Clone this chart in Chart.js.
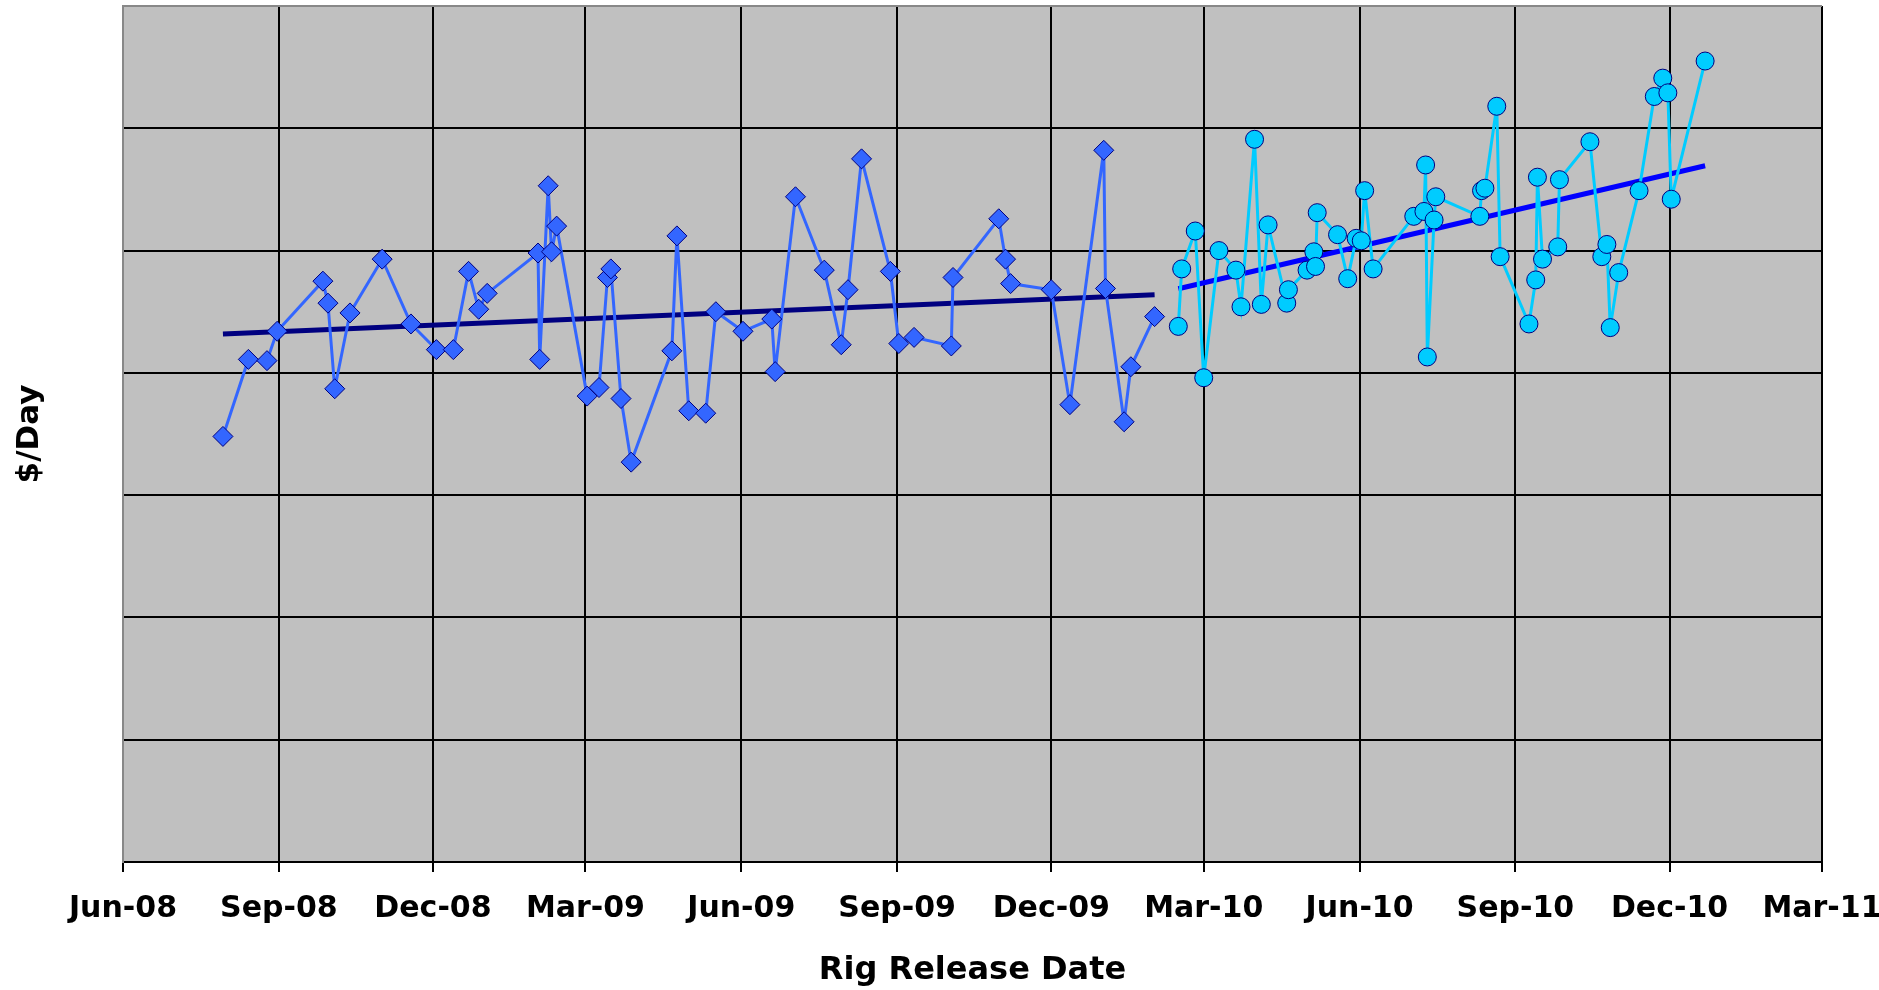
<!DOCTYPE html>
<html>
<head>
<meta charset="utf-8">
<script src="https://cdn.jsdelivr.net/npm/chart.js@4.4.1/dist/chart.umd.min.js"></script>
<style>
  html, body { margin: 0; padding: 0; background: #fff; }
</style>
</head>
<body>
<canvas id="rigChart" width="1879" height="990"></canvas>
<script>
// releases up to Jan-10 (diamonds)
const earlyDates = [
  '2008-07-30', '2008-08-14', '2008-08-25', '2008-08-31', '2008-09-27', '2008-09-30',
  '2008-10-04', '2008-10-13', '2008-11-01', '2008-11-18', '2008-12-03', '2008-12-13',
  '2008-12-22', '2008-12-28', '2009-01-02', '2009-02-01', '2009-02-02', '2009-02-07',
  '2009-02-09', '2009-02-12', '2009-03-02', '2009-03-09', '2009-03-14', '2009-03-16',
  '2009-03-22', '2009-03-28', '2009-04-21', '2009-04-24', '2009-05-01', '2009-05-11',
  '2009-05-17', '2009-06-02', '2009-06-19', '2009-06-21', '2009-07-03', '2009-07-20',
  '2009-07-30', '2009-08-03', '2009-08-11', '2009-08-28', '2009-09-02', '2009-09-11',
  '2009-10-03', '2009-10-04', '2009-10-31', '2009-11-04', '2009-11-07', '2009-12-01',
  '2009-12-12', '2010-01-01', '2010-01-02', '2010-01-13', '2010-01-17', '2010-01-31'
];
const earlyRates = [
  34800, 41100, 41000, 43400, 47500, 45700,
  38700, 44900, 49300, 44000, 41900, 41900,
  48300, 45200, 46500, 49800, 41100, 55300,
  49900, 52000, 38100, 38800, 47800, 48500,
  37900, 32700, 41800, 51200, 36900, 36700,
  45000, 43400, 44400, 40100, 54400, 48400,
  42300, 46800, 57500, 48300, 42400, 42900,
  42200, 47800, 52600, 49300, 47300, 46800,
  37400, 58200, 46900, 36000, 40500, 44600
];

// releases from Feb-10 (circles)
const lateDates = [
  '2010-02-14', '2010-02-16', '2010-02-24', '2010-03-01', '2010-03-10', '2010-03-20',
  '2010-03-23', '2010-03-31', '2010-04-04', '2010-04-08', '2010-04-19', '2010-04-20',
  '2010-05-01', '2010-05-05', '2010-05-06', '2010-05-07', '2010-05-19', '2010-05-25',
  '2010-05-30', '2010-06-02', '2010-06-04', '2010-06-09', '2010-07-03', '2010-07-09',
  '2010-07-10', '2010-07-11', '2010-07-15', '2010-07-16', '2010-08-11', '2010-08-12',
  '2010-08-14', '2010-08-21', '2010-08-23', '2010-09-09', '2010-09-13', '2010-09-14',
  '2010-09-17', '2010-09-26', '2010-09-27', '2010-10-15', '2010-10-22', '2010-10-25',
  '2010-10-27', '2010-11-01', '2010-11-13', '2010-11-22', '2010-11-27', '2010-11-30',
  '2010-12-02', '2010-12-22'
];
const lateRates = [
  43800, 48500, 51600, 39600, 50000, 48400,
  45400, 59100, 45600, 52100, 45700, 46800,
  48400, 49900, 48700, 53100, 51300, 47700,
  51000, 50800, 54900, 48500, 52800, 53200,
  57000, 41300, 52500, 54400, 52800, 54900,
  55100, 61800, 49500, 44000, 47600, 56000,
  49300, 50300, 55800, 58900, 49500, 50500,
  43700, 48200, 54900, 62600, 64100, 62900,
  54200, 65500
];

const tickDates = [
  '2008-06-01', '2008-09-01', '2008-12-01', '2009-03-01', '2009-06-01', '2009-09-01',
  '2009-12-01', '2010-03-01', '2010-06-01', '2010-09-01', '2010-12-01', '2011-03-01'
];
const monthNames = ['Jan', 'Feb', 'Mar', 'Apr', 'May', 'Jun', 'Jul', 'Aug', 'Sep', 'Oct', 'Nov', 'Dec'];

// days since epoch, so the x axis stays linear in time like Excel's date axis
const toDay = s => Date.UTC(+s.slice(0, 4), +s.slice(5, 7) - 1, +s.slice(8, 10)) / 86400000;
function dayLabel(d) {
  const dt = new Date(Math.round(d) * 86400000);
  return monthNames[dt.getUTCMonth()] + '-' + String(dt.getUTCFullYear()).slice(2);
}

function toPoints(dates, rates) {
  return dates.map((d, i) => ({ x: toDay(d), y: rates[i] }));
}

// least squares line over the series' date range
function trendLine(points) {
  const n = points.length;
  const mx = points.reduce((s, p) => s + p.x, 0) / n;
  const my = points.reduce((s, p) => s + p.y, 0) / n;
  let sxy = 0, sxx = 0;
  points.forEach(p => { sxy += (p.x - mx) * (p.y - my); sxx += (p.x - mx) * (p.x - mx); });
  const b = sxy / sxx, a = my - b * mx;
  const x0 = points[0].x, x1 = points[n - 1].x;
  return [{ x: x0, y: a + b * x0 }, { x: x1, y: a + b * x1 }];
}

const earlyPts = toPoints(earlyDates, earlyRates);
const latePts = toPoints(lateDates, lateRates);

const FONT = 'DejaVu Sans, Liberation Sans, Arial, sans-serif';

const plotBg = {
  id: 'plotBg',
  beforeDraw(chart) {
    const { ctx, chartArea: a } = chart;
    ctx.save();
    ctx.fillStyle = '#c0c0c0';
    ctx.fillRect(a.left, a.top, a.width, a.height);
    ctx.restore();
  }
};

const ctx = document.getElementById('rigChart').getContext('2d');
new Chart(ctx, {
  type: 'line',
  data: {
    datasets: [
      {
        data: earlyPts,
        borderColor: '#3366ff',
        borderWidth: 3,
        pointStyle: 'rectRot',
        pointRadius: 10,
        pointBackgroundColor: '#3366ff',
        pointBorderColor: '#000080',
        pointBorderWidth: 1
      },
      {
        data: latePts,
        borderColor: '#00ccff',
        borderWidth: 3,
        pointStyle: 'circle',
        pointRadius: 9,
        pointBackgroundColor: '#00ccff',
        pointBorderColor: '#000080',
        pointBorderWidth: 1
      },
      {
        data: trendLine(earlyPts),
        borderColor: '#000080',
        borderWidth: 5,
        pointRadius: 0
      },
      {
        data: trendLine(latePts),
        borderColor: '#0000ff',
        borderWidth: 5,
        pointRadius: 0
      }
    ]
  },
  options: {
    responsive: false,
    animation: false,
    layout: { autoPadding: false, padding: { left: 0, right: 57, top: 6, bottom: 0 } },
    plugins: {
      legend: { display: false },
      tooltip: { enabled: false }
    },
    scales: {
      x: {
        type: 'linear',
        min: toDay('2008-06-01'),
        max: toDay('2011-03-01'),
        afterBuildTicks: s => { s.ticks = tickDates.map(d => ({ value: toDay(d) })); },
        afterFit: s => { s.height = 128; s.paddingLeft = 0; s.paddingRight = 0; },
        ticks: {
          callback: v => dayLabel(v),
          autoSkip: false,
          maxRotation: 0,
          padding: 19,
          color: '#000',
          font: { family: FONT, size: 30, weight: 'bold' }
        },
        grid: { color: '#000', lineWidth: 2, tickLength: 10, tickColor: '#000', tickWidth: 2 },
        border: { color: '#000', width: 2 },
        title: {
          display: true,
          text: 'Rig Release Date',
          color: '#000',
          padding: { top: 0, bottom: 0 },
          font: { family: FONT, size: 32, weight: 'bold' }
        }
      },
      y: {
        min: 0,
        max: 70000,
        afterFit: s => { s.width = 123; },
        ticks: { display: false, stepSize: 10000 },
        grid: {
          color: c => (c.tick && c.tick.value === 70000 ? '#888' : '#000'),
          lineWidth: 2,
          drawTicks: false
        },
        border: { color: '#888', width: 2 },
        title: {
          display: true,
          text: '$/Day',
          color: '#000',
          padding: { top: 11, bottom: 0 },
          font: { family: FONT, size: 31, weight: 'bold' }
        }
      }
    }
  },
  plugins: [plotBg]
});
</script>
</body>
</html>
